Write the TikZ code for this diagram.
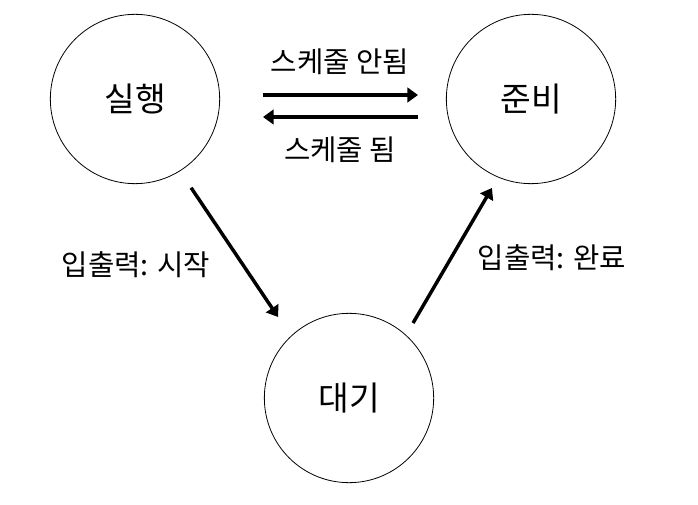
\documentclass[tikz,border=0pt]{standalone}
\usepackage{fontspec}
\setmainfont{Noto Sans CJK KR}
\usetikzlibrary{arrows.meta, calc, positioning}

\begin{document}
\begin{tikzpicture}[x=0.75pt, y=0.75pt,
    state/.style={draw, circle, line width=0.6pt, minimum size=127pt, inner sep=0pt, font=\fontsize{25pt}{29pt}\selectfont},
    trans/.style={line width=2.6pt, -{Triangle[length=8pt, width=11pt]}},
    lbl/.style={font=\fontsize{21.5pt}{25pt}\selectfont}]
    \useasboundingbox (0,0) rectangle (698,504);

    % States
    \node[state] (run) at (135,405) {실행};
    \node[state] (ready) at (531,405) {준비};
    \node[state] (wait) at (349,106) {대기};

    % Between running and ready
    \draw[trans] ($(run.center)+(128,4)$) -- ($(ready.center)+(-113,4)$);
    \draw[trans] ($(ready.center)+(-113,-18)$) -- ($(run.center)+(128,-18)$);
    \node[lbl] (unsched) at (340,442) {스케줄 안됨};
    \node[lbl] (sched) at (340,354) {스케줄 됨};

    % I/O transitions
    \draw[trans] ($(run.center)+(-57.7:105)$) -- ($(wait.center)+(131.2:107.7)$);
    \draw[trans] ($(wait.center)+(49.5:98.6)$) -- ($(ready.center)+(246.3:97.2)$);
    \node[lbl] (iostart) at (136,239) {입출력: 시작};
    \node[lbl] (iodone) at (552,246) {입출력: 완료};
\end{tikzpicture}
\end{document}
